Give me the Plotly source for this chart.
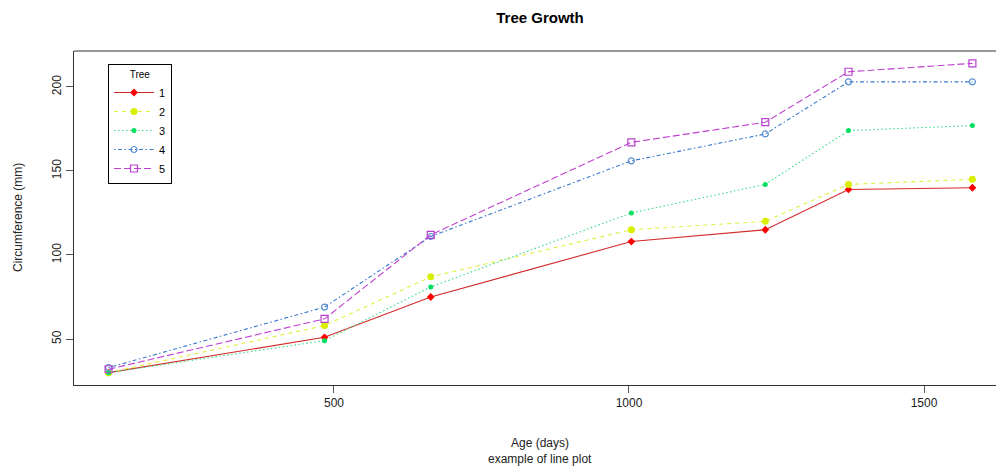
import plotly.graph_objects as go

# Orange tree growth: age (days) and trunk circumference (mm) for five trees
age = [118, 484, 664, 1004, 1231, 1372, 1582]
tree_labels = ["1", "2", "3", "4", "5"]
circ_1 = [30, 51, 75, 108, 115, 139, 140]
circ_2 = [30, 58, 87, 115, 120, 142, 145]
circ_3 = [30, 49, 81, 125, 142, 174, 177]
circ_4 = [33, 69, 111, 156, 172, 203, 203]
circ_5 = [32, 62, 112, 167, 179, 209, 214]
series = [circ_1, circ_2, circ_3, circ_4, circ_5]

x_ticks = [500, 1000, 1500]
y_ticks = [50, 100, 150, 200]

styles = [
    dict(line=dict(color="#d42a2a", width=1.1, dash="solid"),
         marker=dict(symbol="diamond", size=6, color="#ff0000")),
    dict(line=dict(color="#e3ef3a", width=1.1, dash="4px,4px"),
         marker=dict(symbol="circle", size=7, color="#d8f000")),
    dict(line=dict(color="#36dc88", width=1.1, dash="1.5px,2.5px"),
         marker=dict(symbol="circle", size=5, color="#00e060")),
    dict(line=dict(color="#3a78cc", width=1.1, dash="1.5px,2.5px,4px,2.5px"),
         marker=dict(symbol="circle-open", size=6, color="#5a8fd0",
                     line=dict(width=1.2))),
    dict(line=dict(color="#c040d0", width=1.1, dash="7px,3px"),
         marker=dict(symbol="square-open", size=7, color="#b840d0",
                     line=dict(width=1.2))),
]

fig = go.Figure()
for label, values, st in zip(tree_labels, series, styles):
    fig.add_trace(go.Scatter(
        x=age, y=values, name=label, mode="lines+markers",
        line=st["line"], marker=st["marker"],
    ))

font_family = "Liberation Sans, Arial, sans-serif"

fig.update_layout(
    width=996, height=468,
    margin=dict(l=74, r=0, t=51, b=83),
    paper_bgcolor="white", plot_bgcolor="white",
    font=dict(family=font_family, size=12, color="#222"),
    title=dict(text="<b>Tree Growth</b>", x=540 / 996, xanchor="center",
               y=1 - 18 / 468, yanchor="middle",
               font=dict(size=15, color="black")),
    showlegend=True,
    legend=dict(
        x=(108 - 74) / 922, y=(385 - 64) / 334, xanchor="left", yanchor="top",
        bordercolor="black", borderwidth=1, bgcolor="white",
        font=dict(size=11, color="black"),
        title=dict(text="Tree", side="top center", font=dict(size=10)),
        itemwidth=40, tracegroupgap=0,
    ),
    xaxis=dict(
        range=[59.4, 1622], tickvals=x_ticks, ticks="outside", ticklen=7,
        tickcolor="#555", showline=True, linecolor="#333", linewidth=1,
        showgrid=False, zeroline=False, tickfont=dict(size=12, color="#222"),
    ),
    yaxis=dict(
        range=[22.64, 221.36], tickvals=y_ticks, ticks="outside", ticklen=7,
        tickcolor="#555", showline=True, linecolor="#333", linewidth=1,
        showgrid=False, zeroline=False, tickangle=-90,
        tickfont=dict(size=12, color="#222"),
    ),
    annotations=[
        dict(text="Age (days)", xref="paper", yref="paper",
             x=(540 - 74) / 922, y=0, yshift=-58, showarrow=False,
             xanchor="center", yanchor="middle", font=dict(size=12)),
        dict(text="example of line plot", xref="paper", yref="paper",
             x=(540 - 74) / 922, y=0, yshift=-74, showarrow=False,
             xanchor="center", yanchor="middle", font=dict(size=12)),
        dict(text="Circumference (mm)", xref="paper", yref="paper",
             x=0, xshift=-56, y=0.5, textangle=-90, showarrow=False,
             xanchor="center", yanchor="middle", font=dict(size=12)),
    ],
    shapes=[
        # top frame edge
        dict(type="line", xref="paper", yref="paper", x0=0, x1=1, y0=1, y1=1,
             line=dict(color="#333", width=1)),
    ],
)

fig.write_html("out.html")
